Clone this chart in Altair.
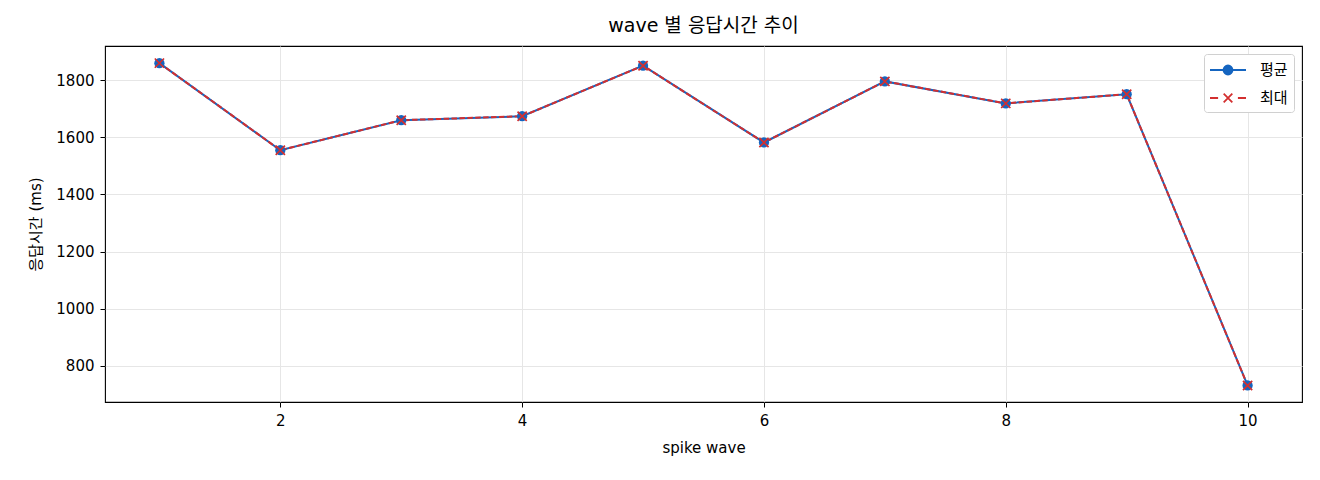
import altair as alt
import pandas as pd

waves = [1, 2, 3, 4, 5, 6, 7, 8, 9, 10]
avg_ms = [1860, 1555, 1660, 1674, 1851, 1582, 1796, 1719, 1751, 731]
max_ms = [1860, 1555, 1660, 1674, 1851, 1582, 1796, 1719, 1751, 731]
series = ['평균', '최대']
colors = ['#1565C0', '#D32F2F']

df = pd.concat([
    pd.DataFrame({'wave': waves, 'ms': avg_ms, 'series': series[0]}),
    pd.DataFrame({'wave': waves, 'ms': max_ms, 'series': series[1]}),
])

FONT = 'DejaVu Sans, Noto Sans CJK KR'

x = alt.X('wave:Q', title='spike wave',
          scale=alt.Scale(domain=[0.55, 10.45], nice=False, zero=False),
          axis=alt.Axis(values=[2, 4, 6, 8, 10], format='d'))
y = alt.Y('ms:Q', title='응답시간 (ms)',
          scale=alt.Scale(domain=[673, 1920], nice=False, zero=False),
          axis=alt.Axis(values=[800, 1000, 1200, 1400, 1600, 1800], format='d'))

base = alt.Chart(df).encode(x=x, y=y)
avg = base.transform_filter(alt.datum.series == series[0])
mx = base.transform_filter(alt.datum.series == series[1])

avg_line = avg.mark_line(strokeWidth=2, color=colors[0])
avg_dots = avg.mark_point(shape='circle', filled=True, size=105, color=colors[0], opacity=1)
max_line = mx.mark_line(strokeWidth=2, color=colors[1], strokeDash=[5.5, 2.4])
max_xs = mx.mark_point(shape='M-1,-1L1,1M-1,1L1,-1', filled=False, size=85,
                       color=colors[1], strokeWidth=1.7, opacity=1)

# legend symbols: line + marker drawn as one custom path
legend_shapes = [
    'M-2,0H2M-0.5,0A0.5,0.5 0 1,0 0.5,0A0.5,0.5 0 1,0 -0.5,0Z',
    'M-2,0H-1.1M1.1,0H2M-0.48,-0.48L0.48,0.48M-0.48,0.48L0.48,-0.48',
]
col_scale = alt.Scale(domain=series, range=colors)

key = base.mark_point(filled=True, opacity=0).encode(
    color=alt.Color('series:N', scale=col_scale, title=None),
    stroke=alt.Stroke('series:N', scale=col_scale, title=None),
    shape=alt.Shape('series:N', scale=alt.Scale(domain=series, range=legend_shapes), title=None),
)

chart = alt.layer(avg_line, max_line, avg_dots, max_xs, key).properties(
    width=1197, height=356,
    title=alt.Title('wave 별 응답시간 추이', font=FONT, fontSize=19, fontWeight='normal',
                    color='#000000', offset=10),
    autosize=alt.AutoSizeParams(type='none'),
    padding={'left': 97, 'top': 38, 'right': 10, 'bottom': 70},
).configure_view(
    stroke='#000000', strokeWidth=1.1
).configure_axis(
    labelFont=FONT, labelFontSize=15, labelColor='#000000',
    titleFont=FONT, titleFontSize=15, titleFontWeight='normal', titleColor='#000000',
    domain=False, tickColor='#000000', tickSize=5, tickWidth=1,
    gridColor='#e6e6e6', gridWidth=1, labelPadding=6,
).configure_axisX(
    titlePadding=12,
).configure_axisY(
    titlePadding=12,
).configure_legend(
    orient='top-right', offset=8,
    labelFont=FONT, labelFontSize=15, labelColor='#000000',
    symbolSize=324, symbolStrokeWidth=1.8, symbolOpacity=1,
    symbolOffset=8, labelOffset=22, rowPadding=9,
    padding=6, fillColor='#ffffff', strokeColor='#d0d0d0', cornerRadius=3,
)

chart.save('out.html', embed_options={'renderer': 'svg', 'actions': False})
